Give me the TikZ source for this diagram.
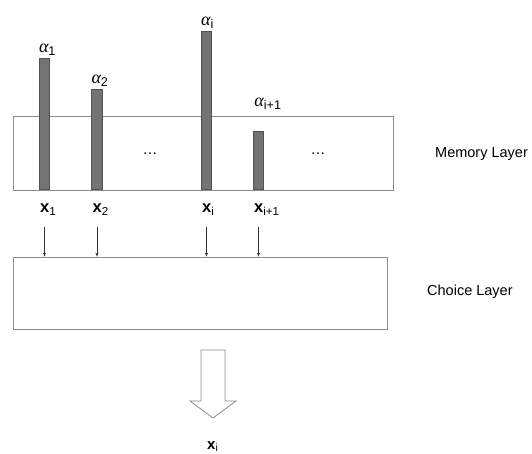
\documentclass[tikz,border=0pt]{standalone}
\usepackage{fontspec}
\setmainfont{Liberation Sans}
\newfontfamily\greekfont{Liberation Serif}
\usetikzlibrary{positioning,arrows.meta,calc}
\definecolor{barfill}{gray}{0.45}
\definecolor{barline}{gray}{0.32}
\definecolor{boxline}{gray}{0.55}
\newcommand{\wt}[1]{{\greekfont\itshape α}\textsubscript{#1}}
\tikzset{
  layer/.style  = { draw=boxline, line width=0.8pt, inner sep=0pt },
  bar/.style    = { draw=barline, fill=barfill, line width=0.6pt, minimum width=10.5pt, inner sep=0pt, anchor=south },
  weight/.style = { font=\fontsize{18}{21}\selectfont, inner sep=0pt },
  input/.style  = { font=\fontsize{16.5}{19}\selectfont, inner sep=0pt, anchor=base west },
  tag/.style    = { font=\fontsize{14.5}{17}\selectfont, anchor=west, inner sep=0pt },
  gap/.style    = { font=\fontsize{15}{18}\selectfont, inner sep=0pt },
  feed/.style   = { -{Stealth[length=4pt,width=3pt]}, draw=black!80, line width=0.5pt }
}

\begin{document}
\begin{tikzpicture}[x=1pt,y=-1pt]
    \useasboundingbox (0,0) rectangle (532,454);
    % layers
    \node[layer, minimum width=380pt, minimum height=74pt] (memory) at (203,153) {};
    \node[layer, minimum width=374pt, minimum height=72pt] (choice) at (200,293) {};
    \node[tag] (memtag) at (435,154) {Memory Layer};
    \node[tag] (chotag) at (427,292) {Choice Layer};

    % weights
    \node[bar, minimum height=131pt] (b1) at (44.5,190) {};
    \node[bar, minimum height=100pt] (b2) at (97,190) {};
    \node[bar, minimum height=158pt] (bi) at (206.5,190) {};
    \node[bar, minimum height=58pt] (bj) at (258.5,190) {};

    \node[weight, above=3pt of b1, xshift=3pt] (a1) {\wt{1}};
    \node[weight, above=3pt of b2, xshift=3pt] (a2) {\wt{2}};
    \node[weight, above=3pt of bi, xshift=1pt] (ai) {\wt{i}};
    \node[weight, anchor=south] (aj) at (268,110) {\wt{i+1}};

    \node[gap] (dots1) at (150,154) {\dots};
    \node[gap] (dots2) at (318,154) {\dots};

    % inputs
    \node[input] (x1) at (40,213) {\textbf{x}\textsubscript{1}};
    \node[input] (x2) at (92.5,213) {\textbf{x}\textsubscript{2}};
    \node[input] (xi) at (202,213) {\textbf{x}\textsubscript{i}};
    \node[input] (xj) at (254,213) {\textbf{x}\textsubscript{i+1}};

    \path[feed] (b1.south |- 0,227) -- (b1.south |- choice.north);
    \path[feed] (b2.south |- 0,227) -- (b2.south |- choice.north);
    \path[feed] (bi.south |- 0,227) -- (bi.south |- choice.north);
    \path[feed] (bj.south |- 0,227) -- (bj.south |- choice.north);

    % output
    \draw[boxline, line width=0.8pt] (201,350) -- (225,350) -- (225,401) -- (236,401)
      -- (213,418) -- (190,401) -- (201,401) -- cycle;
    \node[input, font=\fontsize{15}{18}\selectfont] (out) at (207,449) {\textbf{x}\textsubscript{i}};
\end{tikzpicture}
\end{document}
